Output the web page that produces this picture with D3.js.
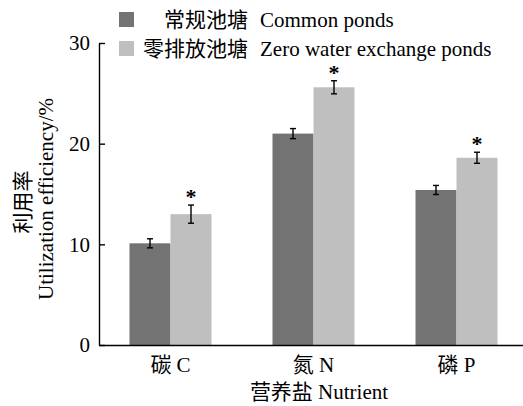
<!DOCTYPE html>
<html lang="zh">
<head>
<meta charset="UTF-8">
<title>Utilization efficiency</title>
<style>
    html, body { margin: 0; padding: 0; background: #fff; }
    svg { display: block; }
    text { font-family: "Liberation Serif", "DejaVu Serif", serif, "Noto Sans CJK SC"; fill: #000; }
</style>
</head>
<body>
<svg id="svg" width="523" height="406"></svg>
<script src="https://d3js.org/d3.v7.min.js"></script>
<script>
    const categories = ['碳 C', '氮 N', '磷 P']
    const seriesNames = ['常规池塘', '零排放池塘']
    const seriesEnglish = ['Common ponds', 'Zero water exchange ponds']
    const commonValues = [10.1, 21.0, 15.4]
    const commonErrors = [0.45, 0.5, 0.45]
    const zeroValues = [13.0, 25.6, 18.6]
    const zeroErrors = [0.9, 0.65, 0.55]
    const zeroSignificant = [true, true, true]
    const yTicks = [0, 10, 20, 30]
    const colors = ['#737373', '#bfbfbf']

    const svg = d3.select('#svg')

    const x0 = d3.scaleBand().domain(categories).range([99, 528]).padding(0)
    const x1 = d3.scaleBand().domain(seriesNames).range([0, 82])
    const y = d3.scaleLinear().domain([0, 30]).range([345, 43])

    const rows = []
    categories.forEach((c, i) => {
        rows.push({ cat: c, s: seriesNames[0], v: commonValues[i], e: commonErrors[i], star: false })
        rows.push({ cat: c, s: seriesNames[1], v: zeroValues[i], e: zeroErrors[i], star: zeroSignificant[i] })
    })
    const barX = d => x0(d.cat) + x0.bandwidth() / 2 - 41 + x1(d.s)
    const colorScale = d3.scaleOrdinal().domain(seriesNames).range(colors)

    // bars
    svg.append('g').selectAll('rect')
        .data(rows)
        .enter()
        .append('rect')
        .attr('x', barX)
        .attr('y', d => y(d.v))
        .attr('width', x1.bandwidth())
        .attr('height', d => y(0) - y(d.v))
        .attr('fill', d => colorScale(d.s))

    // error bars
    const eb = svg.append('g').attr('stroke', '#000').attr('stroke-width', 1.4)
    rows.forEach(d => {
        const cx = barX(d) + x1.bandwidth() / 2
        eb.append('line').attr('x1', cx).attr('x2', cx).attr('y1', y(d.v + d.e)).attr('y2', y(d.v - d.e))
        eb.append('line').attr('x1', cx - 3).attr('x2', cx + 3).attr('y1', y(d.v + d.e)).attr('y2', y(d.v + d.e))
        eb.append('line').attr('x1', cx - 3).attr('x2', cx + 3).attr('y1', y(d.v - d.e)).attr('y2', y(d.v - d.e))
    })

    // significance stars
    svg.append('g').selectAll('text')
        .data(rows.filter(d => d.star))
        .enter()
        .append('text')
        .attr('x', d => barX(d) + x1.bandwidth() / 2)
        .attr('y', d => y(d.v + d.e) - 1)
        .attr('text-anchor', 'middle')
        .style('font-size', '22px')
        .style('font-weight', 'bold')
        .text('*')

    // axes
    const xAxis = svg.append('g')
        .attr('transform', `translate(0, ${y(0)})`)
        .call(d3.axisBottom(x0).tickSize(0).tickPadding(12))
    xAxis.selectAll('text').style('font-size', '21px').attr('dy', '0.71em')
    xAxis.select('.domain').attr('stroke-width', 1.4)

    const yAxis = svg.append('g')
        .attr('transform', 'translate(99, 0)')
        .call(d3.axisLeft(y).tickValues(yTicks).tickSizeInner(-6).tickSizeOuter(0).tickPadding(9))
    yAxis.selectAll('text').style('font-size', '21px')
    yAxis.selectAll('line, .domain').attr('stroke-width', 1.4)

    // axis titles
    svg.append('text')
        .attr('x', 319)
        .attr('y', 399)
        .attr('text-anchor', 'middle')
        .style('font-size', '21px')
        .text('营养盐 Nutrient')

    svg.append('text')
        .attr('transform', 'translate(30, 202) rotate(-90)')
        .attr('text-anchor', 'middle')
        .style('font-size', '21px')
        .text('利用率')

    svg.append('text')
        .attr('transform', 'translate(53, 199) rotate(-90)')
        .attr('text-anchor', 'middle')
        .style('font-size', '21px')
        .text('Utilization efficiency/%')

    // legend
    const legend = svg.append('g')
    seriesNames.forEach((s, i) => {
        const yy = 12 + i * 29
        legend.append('rect').attr('x', 119).attr('y', yy).attr('width', 15).attr('height', 15).attr('fill', colors[i])
        legend.append('text').attr('x', 248).attr('y', yy + 15).attr('text-anchor', 'end')
            .style('font-size', '21px').text(s)
        legend.append('text').attr('x', 260).attr('y', yy + 15)
            .style('font-size', '21px').text(seriesEnglish[i])
    })
</script>
</body>
</html>
